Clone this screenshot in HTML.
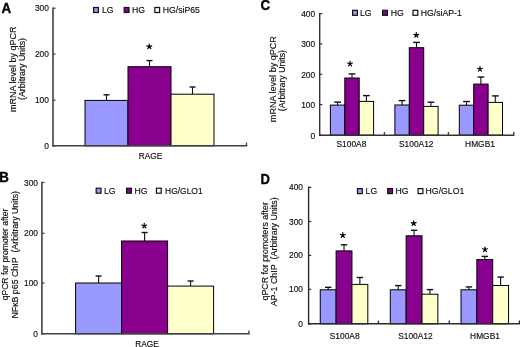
<!DOCTYPE html>
<html><head><meta charset="utf-8"><style>
html,body{margin:0;padding:0;background:#fff;}
svg{display:block;font-family:"Liberation Sans", sans-serif;will-change:transform;}
</style></head><body>
<svg width="520" height="347" viewBox="0 0 520 347">
<rect x="0" y="0" width="520" height="347" fill="#fff"/>
<line x1="106.50" y1="100.40" x2="106.50" y2="94.80" stroke="#111" stroke-width="1.1"/>
<line x1="103.50" y1="94.80" x2="109.50" y2="94.80" stroke="#111" stroke-width="1.4"/>
<rect x="85.00" y="100.40" width="43.00" height="45.40" fill="#9999FF" stroke="#000" stroke-width="1.0"/>
<line x1="149.50" y1="66.70" x2="149.50" y2="60.60" stroke="#111" stroke-width="1.1"/>
<line x1="146.50" y1="60.60" x2="152.50" y2="60.60" stroke="#111" stroke-width="1.4"/>
<rect x="128.00" y="66.70" width="43.00" height="79.10" fill="#8A008E" stroke="#000" stroke-width="1.0"/>
<line x1="192.50" y1="94.20" x2="192.50" y2="87.00" stroke="#111" stroke-width="1.1"/>
<line x1="189.50" y1="87.00" x2="195.50" y2="87.00" stroke="#111" stroke-width="1.4"/>
<rect x="171.00" y="94.20" width="43.00" height="51.60" fill="#FFFFCC" stroke="#000" stroke-width="1.0"/>
<line x1="53.00" y1="7.40" x2="53.00" y2="146.60" stroke="#404040" stroke-width="1.6"/>
<line x1="52.20" y1="145.80" x2="247.30" y2="145.80" stroke="#404040" stroke-width="1.6"/>
<line x1="53.00" y1="145.80" x2="55.60" y2="145.80" stroke="#404040" stroke-width="1.2"/>
<line x1="53.00" y1="100.20" x2="55.60" y2="100.20" stroke="#404040" stroke-width="1.2"/>
<line x1="53.00" y1="54.00" x2="55.60" y2="54.00" stroke="#404040" stroke-width="1.2"/>
<line x1="53.00" y1="8.20" x2="55.60" y2="8.20" stroke="#404040" stroke-width="1.2"/>
<line x1="246.50" y1="145.80" x2="246.50" y2="142.60" stroke="#404040" stroke-width="1.3"/>
<text x="48.90" y="148.80" font-size="8.4" text-anchor="end" font-weight="normal" fill="#111" stroke="#111" stroke-width="0.16">0</text>
<text x="48.90" y="103.20" font-size="8.4" text-anchor="end" font-weight="normal" fill="#111" stroke="#111" stroke-width="0.16">100</text>
<text x="48.90" y="57.00" font-size="8.4" text-anchor="end" font-weight="normal" fill="#111" stroke="#111" stroke-width="0.16">200</text>
<text x="48.90" y="11.20" font-size="8.4" text-anchor="end" font-weight="normal" fill="#111" stroke="#111" stroke-width="0.16">300</text>
<line x1="337.60" y1="105.10" x2="337.60" y2="102.10" stroke="#111" stroke-width="1.1"/>
<line x1="334.20" y1="102.10" x2="341.00" y2="102.10" stroke="#111" stroke-width="1.4"/>
<rect x="330.40" y="105.10" width="14.40" height="30.10" fill="#9999FF" stroke="#000" stroke-width="1.0"/>
<line x1="352.00" y1="78.00" x2="352.00" y2="73.90" stroke="#111" stroke-width="1.1"/>
<line x1="348.60" y1="73.90" x2="355.40" y2="73.90" stroke="#111" stroke-width="1.4"/>
<rect x="344.80" y="78.00" width="14.40" height="57.20" fill="#8A008E" stroke="#000" stroke-width="1.0"/>
<line x1="366.40" y1="101.40" x2="366.40" y2="95.60" stroke="#111" stroke-width="1.1"/>
<line x1="363.00" y1="95.60" x2="369.80" y2="95.60" stroke="#111" stroke-width="1.4"/>
<rect x="359.20" y="101.40" width="14.40" height="33.80" fill="#FFFFCC" stroke="#000" stroke-width="1.0"/>
<line x1="402.10" y1="105.00" x2="402.10" y2="100.60" stroke="#111" stroke-width="1.1"/>
<line x1="398.70" y1="100.60" x2="405.50" y2="100.60" stroke="#111" stroke-width="1.4"/>
<rect x="394.90" y="105.00" width="14.40" height="30.20" fill="#9999FF" stroke="#000" stroke-width="1.0"/>
<line x1="416.50" y1="47.70" x2="416.50" y2="42.40" stroke="#111" stroke-width="1.1"/>
<line x1="413.10" y1="42.40" x2="419.90" y2="42.40" stroke="#111" stroke-width="1.4"/>
<rect x="409.30" y="47.70" width="14.40" height="87.50" fill="#8A008E" stroke="#000" stroke-width="1.0"/>
<line x1="430.90" y1="106.40" x2="430.90" y2="102.20" stroke="#111" stroke-width="1.1"/>
<line x1="427.50" y1="102.20" x2="434.30" y2="102.20" stroke="#111" stroke-width="1.4"/>
<rect x="423.70" y="106.40" width="14.40" height="28.80" fill="#FFFFCC" stroke="#000" stroke-width="1.0"/>
<line x1="466.50" y1="105.20" x2="466.50" y2="101.50" stroke="#111" stroke-width="1.1"/>
<line x1="463.10" y1="101.50" x2="469.90" y2="101.50" stroke="#111" stroke-width="1.4"/>
<rect x="459.30" y="105.20" width="14.40" height="30.00" fill="#9999FF" stroke="#000" stroke-width="1.0"/>
<line x1="480.90" y1="84.10" x2="480.90" y2="77.00" stroke="#111" stroke-width="1.1"/>
<line x1="477.50" y1="77.00" x2="484.30" y2="77.00" stroke="#111" stroke-width="1.4"/>
<rect x="473.70" y="84.10" width="14.40" height="51.10" fill="#8A008E" stroke="#000" stroke-width="1.0"/>
<line x1="495.30" y1="102.40" x2="495.30" y2="95.90" stroke="#111" stroke-width="1.1"/>
<line x1="491.90" y1="95.90" x2="498.70" y2="95.90" stroke="#111" stroke-width="1.4"/>
<rect x="488.10" y="102.40" width="14.40" height="32.80" fill="#FFFFCC" stroke="#000" stroke-width="1.0"/>
<line x1="319.70" y1="12.90" x2="319.70" y2="135.90" stroke="#333" stroke-width="1.4"/>
<line x1="319.00" y1="135.20" x2="514.40" y2="135.20" stroke="#333" stroke-width="1.4"/>
<line x1="319.70" y1="135.20" x2="322.30" y2="135.20" stroke="#333" stroke-width="1.2"/>
<line x1="319.70" y1="104.60" x2="322.30" y2="104.60" stroke="#333" stroke-width="1.2"/>
<line x1="319.70" y1="74.25" x2="322.30" y2="74.25" stroke="#333" stroke-width="1.2"/>
<line x1="319.70" y1="43.90" x2="322.30" y2="43.90" stroke="#333" stroke-width="1.2"/>
<line x1="319.70" y1="13.60" x2="322.30" y2="13.60" stroke="#333" stroke-width="1.2"/>
<line x1="384.40" y1="135.20" x2="384.40" y2="132.00" stroke="#333" stroke-width="1.3"/>
<line x1="448.40" y1="135.20" x2="448.40" y2="132.00" stroke="#333" stroke-width="1.3"/>
<line x1="513.70" y1="135.20" x2="513.70" y2="132.00" stroke="#333" stroke-width="1.3"/>
<text x="315.20" y="138.70" font-size="8.4" text-anchor="end" font-weight="normal" fill="#111" stroke="#111" stroke-width="0.16">0</text>
<text x="315.20" y="108.10" font-size="8.4" text-anchor="end" font-weight="normal" fill="#111" stroke="#111" stroke-width="0.16">100</text>
<text x="315.20" y="77.75" font-size="8.4" text-anchor="end" font-weight="normal" fill="#111" stroke="#111" stroke-width="0.16">200</text>
<text x="315.20" y="47.40" font-size="8.4" text-anchor="end" font-weight="normal" fill="#111" stroke="#111" stroke-width="0.16">300</text>
<text x="315.20" y="17.10" font-size="8.4" text-anchor="end" font-weight="normal" fill="#111" stroke="#111" stroke-width="0.16">400</text>
<line x1="98.60" y1="283.00" x2="98.60" y2="276.00" stroke="#111" stroke-width="1.1"/>
<line x1="95.60" y1="276.00" x2="101.60" y2="276.00" stroke="#111" stroke-width="1.4"/>
<rect x="75.60" y="283.00" width="46.00" height="50.80" fill="#9999FF" stroke="#000" stroke-width="1.0"/>
<line x1="144.60" y1="241.00" x2="144.60" y2="232.50" stroke="#111" stroke-width="1.1"/>
<line x1="141.60" y1="232.50" x2="147.60" y2="232.50" stroke="#111" stroke-width="1.4"/>
<rect x="121.60" y="241.00" width="46.00" height="92.80" fill="#8A008E" stroke="#000" stroke-width="1.0"/>
<line x1="190.60" y1="286.10" x2="190.60" y2="281.00" stroke="#111" stroke-width="1.1"/>
<line x1="187.60" y1="281.00" x2="193.60" y2="281.00" stroke="#111" stroke-width="1.4"/>
<rect x="167.60" y="286.10" width="46.00" height="47.70" fill="#FFFFCC" stroke="#000" stroke-width="1.0"/>
<line x1="41.90" y1="181.70" x2="41.90" y2="334.60" stroke="#404040" stroke-width="1.6"/>
<line x1="41.10" y1="333.80" x2="249.70" y2="333.80" stroke="#404040" stroke-width="1.6"/>
<line x1="41.90" y1="333.80" x2="44.50" y2="333.80" stroke="#404040" stroke-width="1.2"/>
<line x1="41.90" y1="283.10" x2="44.50" y2="283.10" stroke="#404040" stroke-width="1.2"/>
<line x1="41.90" y1="233.30" x2="44.50" y2="233.30" stroke="#404040" stroke-width="1.2"/>
<line x1="41.90" y1="182.50" x2="44.50" y2="182.50" stroke="#404040" stroke-width="1.2"/>
<line x1="248.90" y1="333.80" x2="248.90" y2="330.60" stroke="#404040" stroke-width="1.3"/>
<text x="38.00" y="336.80" font-size="8.4" text-anchor="end" font-weight="normal" fill="#111" stroke="#111" stroke-width="0.16">0</text>
<text x="38.00" y="286.10" font-size="8.4" text-anchor="end" font-weight="normal" fill="#111" stroke="#111" stroke-width="0.16">100</text>
<text x="38.00" y="236.30" font-size="8.4" text-anchor="end" font-weight="normal" fill="#111" stroke="#111" stroke-width="0.16">200</text>
<text x="38.00" y="185.50" font-size="8.4" text-anchor="end" font-weight="normal" fill="#111" stroke="#111" stroke-width="0.16">300</text>
<line x1="328.18" y1="289.80" x2="328.18" y2="287.30" stroke="#111" stroke-width="1.1"/>
<line x1="324.98" y1="287.30" x2="331.38" y2="287.30" stroke="#111" stroke-width="1.4"/>
<rect x="320.25" y="289.80" width="15.85" height="34.00" fill="#9999FF" stroke="#000" stroke-width="1.0"/>
<line x1="344.03" y1="250.90" x2="344.03" y2="244.80" stroke="#111" stroke-width="1.1"/>
<line x1="340.83" y1="244.80" x2="347.23" y2="244.80" stroke="#111" stroke-width="1.4"/>
<rect x="336.10" y="250.90" width="15.85" height="72.90" fill="#8A008E" stroke="#000" stroke-width="1.0"/>
<line x1="359.88" y1="284.40" x2="359.88" y2="277.50" stroke="#111" stroke-width="1.1"/>
<line x1="356.68" y1="277.50" x2="363.07" y2="277.50" stroke="#111" stroke-width="1.4"/>
<rect x="351.95" y="284.40" width="15.85" height="39.40" fill="#FFFFCC" stroke="#000" stroke-width="1.0"/>
<line x1="398.23" y1="289.80" x2="398.23" y2="285.60" stroke="#111" stroke-width="1.1"/>
<line x1="395.03" y1="285.60" x2="401.43" y2="285.60" stroke="#111" stroke-width="1.4"/>
<rect x="390.30" y="289.80" width="15.85" height="34.00" fill="#9999FF" stroke="#000" stroke-width="1.0"/>
<line x1="414.08" y1="235.80" x2="414.08" y2="230.30" stroke="#111" stroke-width="1.1"/>
<line x1="410.88" y1="230.30" x2="417.28" y2="230.30" stroke="#111" stroke-width="1.4"/>
<rect x="406.15" y="235.80" width="15.85" height="88.00" fill="#8A008E" stroke="#000" stroke-width="1.0"/>
<line x1="429.93" y1="294.20" x2="429.93" y2="289.60" stroke="#111" stroke-width="1.1"/>
<line x1="426.73" y1="289.60" x2="433.12" y2="289.60" stroke="#111" stroke-width="1.4"/>
<rect x="422.00" y="294.20" width="15.85" height="29.60" fill="#FFFFCC" stroke="#000" stroke-width="1.0"/>
<line x1="468.93" y1="289.80" x2="468.93" y2="286.90" stroke="#111" stroke-width="1.1"/>
<line x1="465.73" y1="286.90" x2="472.12" y2="286.90" stroke="#111" stroke-width="1.4"/>
<rect x="461.00" y="289.80" width="15.85" height="34.00" fill="#9999FF" stroke="#000" stroke-width="1.0"/>
<line x1="484.78" y1="259.60" x2="484.78" y2="256.40" stroke="#111" stroke-width="1.1"/>
<line x1="481.58" y1="256.40" x2="487.98" y2="256.40" stroke="#111" stroke-width="1.4"/>
<rect x="476.85" y="259.60" width="15.85" height="64.20" fill="#8A008E" stroke="#000" stroke-width="1.0"/>
<line x1="500.62" y1="285.50" x2="500.62" y2="277.10" stroke="#111" stroke-width="1.1"/>
<line x1="497.43" y1="277.10" x2="503.82" y2="277.10" stroke="#111" stroke-width="1.4"/>
<rect x="492.70" y="285.50" width="15.85" height="38.30" fill="#FFFFCC" stroke="#000" stroke-width="1.0"/>
<line x1="308.60" y1="186.60" x2="308.60" y2="324.50" stroke="#2a2a2a" stroke-width="1.4"/>
<line x1="307.90" y1="323.80" x2="520.10" y2="323.80" stroke="#2a2a2a" stroke-width="1.4"/>
<line x1="308.60" y1="323.80" x2="311.20" y2="323.80" stroke="#2a2a2a" stroke-width="1.2"/>
<line x1="308.60" y1="289.30" x2="311.20" y2="289.30" stroke="#2a2a2a" stroke-width="1.2"/>
<line x1="308.60" y1="255.40" x2="311.20" y2="255.40" stroke="#2a2a2a" stroke-width="1.2"/>
<line x1="308.60" y1="221.50" x2="311.20" y2="221.50" stroke="#2a2a2a" stroke-width="1.2"/>
<line x1="308.60" y1="187.30" x2="311.20" y2="187.30" stroke="#2a2a2a" stroke-width="1.2"/>
<line x1="378.40" y1="323.80" x2="378.40" y2="320.60" stroke="#2a2a2a" stroke-width="1.3"/>
<line x1="449.30" y1="323.80" x2="449.30" y2="320.60" stroke="#2a2a2a" stroke-width="1.3"/>
<line x1="519.40" y1="323.80" x2="519.40" y2="320.60" stroke="#2a2a2a" stroke-width="1.3"/>
<text x="303.00" y="326.80" font-size="8.4" text-anchor="end" font-weight="normal" fill="#111" stroke="#111" stroke-width="0.16">0</text>
<text x="303.00" y="292.30" font-size="8.4" text-anchor="end" font-weight="normal" fill="#111" stroke="#111" stroke-width="0.16">100</text>
<text x="303.00" y="258.40" font-size="8.4" text-anchor="end" font-weight="normal" fill="#111" stroke="#111" stroke-width="0.16">200</text>
<text x="303.00" y="224.50" font-size="8.4" text-anchor="end" font-weight="normal" fill="#111" stroke="#111" stroke-width="0.16">300</text>
<text x="303.00" y="190.30" font-size="8.4" text-anchor="end" font-weight="normal" fill="#111" stroke="#111" stroke-width="0.16">400</text>
<path d="M149.30 46.65L149.30 44.10M149.30 46.65L151.73 45.86M149.30 46.65L150.80 48.71M149.30 46.65L147.80 48.71M149.30 46.65L146.87 45.86" stroke="#000" stroke-width="1.2" stroke-linecap="round" fill="none"/>
<circle cx="149.30" cy="46.65" r="1.0" fill="#000"/>
<path d="M350.05 63.80L350.05 61.25M350.05 63.80L352.48 63.01M350.05 63.80L351.55 65.86M350.05 63.80L348.55 65.86M350.05 63.80L347.62 63.01" stroke="#000" stroke-width="1.2" stroke-linecap="round" fill="none"/>
<circle cx="350.05" cy="63.80" r="1.0" fill="#000"/>
<path d="M416.30 35.10L416.30 32.55M416.30 35.10L418.73 34.31M416.30 35.10L417.80 37.16M416.30 35.10L414.80 37.16M416.30 35.10L413.87 34.31" stroke="#000" stroke-width="1.2" stroke-linecap="round" fill="none"/>
<circle cx="416.30" cy="35.10" r="1.0" fill="#000"/>
<path d="M479.95 69.05L479.95 66.50M479.95 69.05L482.38 68.26M479.95 69.05L481.45 71.11M479.95 69.05L478.45 71.11M479.95 69.05L477.52 68.26" stroke="#000" stroke-width="1.2" stroke-linecap="round" fill="none"/>
<circle cx="479.95" cy="69.05" r="1.0" fill="#000"/>
<path d="M144.25 225.80L144.25 223.25M144.25 225.80L146.68 225.01M144.25 225.80L145.75 227.86M144.25 225.80L142.75 227.86M144.25 225.80L141.82 225.01" stroke="#000" stroke-width="1.2" stroke-linecap="round" fill="none"/>
<circle cx="144.25" cy="225.80" r="1.0" fill="#000"/>
<path d="M342.80 235.25L342.80 232.70M342.80 235.25L345.23 234.46M342.80 235.25L344.30 237.31M342.80 235.25L341.30 237.31M342.80 235.25L340.37 234.46" stroke="#000" stroke-width="1.2" stroke-linecap="round" fill="none"/>
<circle cx="342.80" cy="235.25" r="1.0" fill="#000"/>
<path d="M413.70 223.35L413.70 220.80M413.70 223.35L416.13 222.56M413.70 223.35L415.20 225.41M413.70 223.35L412.20 225.41M413.70 223.35L411.27 222.56" stroke="#000" stroke-width="1.2" stroke-linecap="round" fill="none"/>
<circle cx="413.70" cy="223.35" r="1.0" fill="#000"/>
<path d="M485.00 249.55L485.00 247.00M485.00 249.55L487.43 248.76M485.00 249.55L486.50 251.61M485.00 249.55L483.50 251.61M485.00 249.55L482.57 248.76" stroke="#000" stroke-width="1.2" stroke-linecap="round" fill="none"/>
<circle cx="485.00" cy="249.55" r="1.0" fill="#000"/>
<rect x="93.60" y="7.50" width="4.80" height="5.00" fill="#9999FF" stroke="#111" stroke-width="1.2"/>
<text x="102.00" y="12.80" font-size="8.7" text-anchor="start" font-weight="normal" fill="#111" stroke="#111" stroke-width="0.16">LG</text>
<rect x="124.20" y="7.50" width="4.80" height="5.00" fill="#8A008E" stroke="#111" stroke-width="1.2"/>
<text x="131.90" y="12.80" font-size="8.7" text-anchor="start" font-weight="normal" fill="#111" stroke="#111" stroke-width="0.16">HG</text>
<rect x="154.80" y="7.50" width="4.80" height="5.00" fill="#FAFAE4" stroke="#111" stroke-width="1.2"/>
<text x="162.70" y="12.80" font-size="8.7" text-anchor="start" font-weight="normal" fill="#111" stroke="#111" stroke-width="0.16">HG/siP65</text>
<rect x="352.60" y="10.30" width="4.80" height="5.00" fill="#9999FF" stroke="#111" stroke-width="1.2"/>
<text x="360.00" y="15.60" font-size="8.7" text-anchor="start" font-weight="normal" fill="#111" stroke="#111" stroke-width="0.16">LG</text>
<rect x="382.60" y="10.30" width="4.80" height="5.00" fill="#8A008E" stroke="#111" stroke-width="1.2"/>
<text x="390.70" y="15.60" font-size="8.7" text-anchor="start" font-weight="normal" fill="#111" stroke="#111" stroke-width="0.16">HG</text>
<rect x="413.00" y="10.30" width="4.80" height="5.00" fill="#FAFAE4" stroke="#111" stroke-width="1.2"/>
<text x="420.70" y="15.60" font-size="8.7" text-anchor="start" font-weight="normal" fill="#111" stroke="#111" stroke-width="0.16">HG/siAP-1</text>
<rect x="96.20" y="188.20" width="4.80" height="5.00" fill="#9999FF" stroke="#111" stroke-width="1.2"/>
<text x="104.00" y="193.50" font-size="8.7" text-anchor="start" font-weight="normal" fill="#111" stroke="#111" stroke-width="0.16">LG</text>
<rect x="126.60" y="188.20" width="4.80" height="5.00" fill="#8A008E" stroke="#111" stroke-width="1.2"/>
<text x="134.60" y="193.50" font-size="8.7" text-anchor="start" font-weight="normal" fill="#111" stroke="#111" stroke-width="0.16">HG</text>
<rect x="156.40" y="188.20" width="4.80" height="5.00" fill="#FAFAE4" stroke="#111" stroke-width="1.2"/>
<text x="165.10" y="193.50" font-size="8.45" text-anchor="start" font-weight="normal" fill="#111" stroke="#111" stroke-width="0.16">HG/GLO1</text>
<rect x="357.50" y="188.60" width="4.80" height="5.00" fill="#9999FF" stroke="#111" stroke-width="1.2"/>
<text x="365.60" y="193.90" font-size="8.7" text-anchor="start" font-weight="normal" fill="#111" stroke="#111" stroke-width="0.16">LG</text>
<rect x="387.70" y="188.60" width="4.80" height="5.00" fill="#8A008E" stroke="#111" stroke-width="1.2"/>
<text x="395.60" y="193.90" font-size="8.7" text-anchor="start" font-weight="normal" fill="#111" stroke="#111" stroke-width="0.16">HG</text>
<rect x="418.10" y="188.60" width="4.80" height="5.00" fill="#FAFAE4" stroke="#111" stroke-width="1.2"/>
<text x="425.60" y="193.90" font-size="8.7" text-anchor="start" font-weight="normal" fill="#111" stroke="#111" stroke-width="0.16">HG/GLO1</text>
<text x="150.50" y="158.70" font-size="8.3" text-anchor="middle" font-weight="normal" fill="#111" stroke="#111" stroke-width="0.16">RAGE</text>
<text x="147.00" y="347.40" font-size="8.3" text-anchor="middle" font-weight="normal" fill="#111" stroke="#111" stroke-width="0.16">RAGE</text>
<text x="351.40" y="147.00" font-size="8.4" text-anchor="middle" font-weight="normal" fill="#111" stroke="#111" stroke-width="0.16">S100A8</text>
<text x="416.25" y="147.00" font-size="8.4" text-anchor="middle" font-weight="normal" fill="#111" stroke="#111" stroke-width="0.16">S100A12</text>
<text x="480.00" y="147.00" font-size="8.4" text-anchor="middle" font-weight="normal" fill="#111" stroke="#111" stroke-width="0.16">HMGB1</text>
<text x="344.70" y="338.90" font-size="8.4" text-anchor="middle" font-weight="normal" fill="#111" stroke="#111" stroke-width="0.16">S100A8</text>
<text x="415.40" y="338.90" font-size="8.4" text-anchor="middle" font-weight="normal" fill="#111" stroke="#111" stroke-width="0.16">S100A12</text>
<text x="485.00" y="338.90" font-size="8.4" text-anchor="middle" font-weight="normal" fill="#111" stroke="#111" stroke-width="0.16">HMGB1</text>
<text transform="translate(1.4 12.6) scale(0.96 1)" font-size="14" font-weight="bold" fill="#000" stroke="#000" stroke-width="0.35">A</text>
<text transform="translate(260.6 10.3) scale(0.95 1)" font-size="14" font-weight="bold" fill="#000" stroke="#000" stroke-width="0.35">C</text>
<text transform="translate(-0.8 182.0) scale(0.95 1)" font-size="14" font-weight="bold" fill="#000" stroke="#000" stroke-width="0.35">B</text>
<text transform="translate(260.4 184.1) scale(0.93 1)" font-size="14" font-weight="bold" fill="#000" stroke="#000" stroke-width="0.35">D</text>
<text x="15.80" y="69.20" font-size="9.0" text-anchor="middle" font-weight="normal" fill="#111" stroke="#111" stroke-width="0.16" transform="rotate(-90 15.80 69.20)">mRNA level by qPCR</text>
<text x="25.20" y="69.00" font-size="8.9" text-anchor="middle" font-weight="normal" fill="#111" stroke="#111" stroke-width="0.16" transform="rotate(-90 25.20 69.00)">(Arbitrary Units)</text>
<text x="276.40" y="79.15" font-size="9.05" text-anchor="middle" font-weight="normal" fill="#111" stroke="#111" stroke-width="0.16" transform="rotate(-90 276.40 79.15)">mRNA level by qPCR</text>
<text x="285.00" y="80.60" font-size="8.75" text-anchor="middle" font-weight="normal" fill="#111" stroke="#111" stroke-width="0.16" transform="rotate(-90 285.00 80.60)">(Arbitrary Units)</text>
<text x="8.30" y="254.50" font-size="8.6" text-anchor="middle" font-weight="normal" fill="#111" stroke="#111" stroke-width="0.16" transform="rotate(-90 8.30 254.50)">qPCR for promoter after</text>
<text x="18.20" y="254.80" font-size="8.8" text-anchor="middle" font-weight="normal" fill="#111" stroke="#111" stroke-width="0.16" transform="rotate(-90 18.20 254.80)">NF&#954;B p65 ChIP&#160; (Arbitrary Units)</text>
<text x="268.50" y="251.30" font-size="8.8" text-anchor="middle" font-weight="normal" fill="#111" stroke="#111" stroke-width="0.16" transform="rotate(-90 268.50 251.30)">qPCR for promoters after</text>
<text x="277.20" y="251.80" font-size="8.9" text-anchor="middle" font-weight="normal" fill="#111" stroke="#111" stroke-width="0.16" transform="rotate(-90 277.20 251.80)">AP-1 ChIP&#160; (Arbitrary Units)</text>
</svg>
</body></html>
